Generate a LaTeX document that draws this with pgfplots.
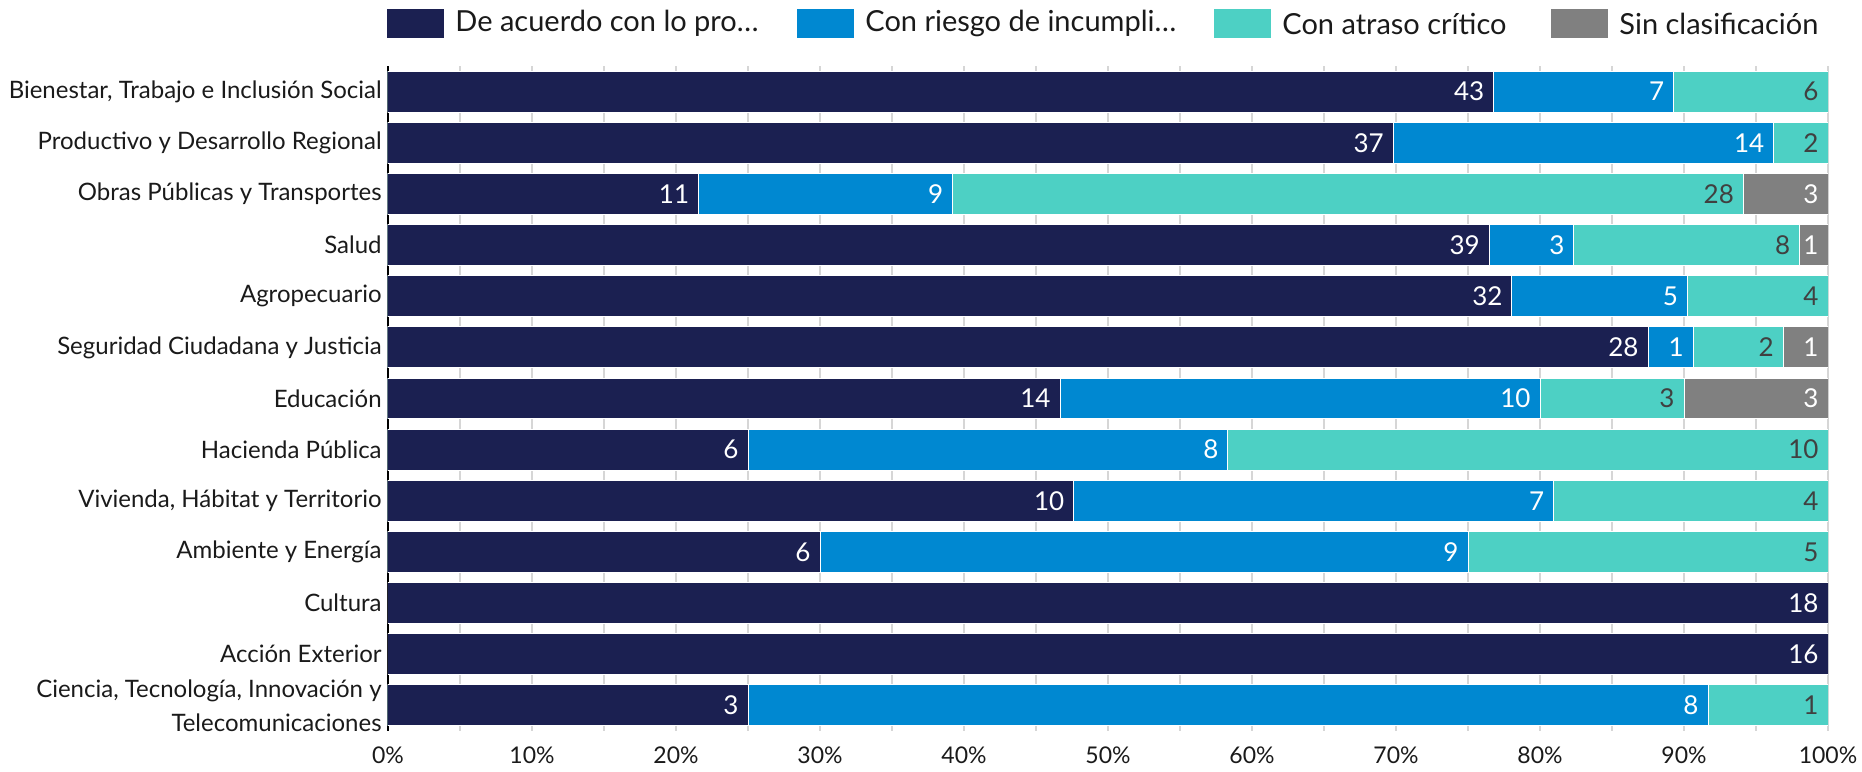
\documentclass[border=0pt]{standalone}
\usepackage{pgfplots}
\pgfplotsset{compat=1.18}
\usepackage{pgfplotstable}
\usepackage{fontspec}
\setmainfont{Lato}
\definecolor{cnavy}{HTML}{1B2051}
\definecolor{cblue}{HTML}{0088D1}
\definecolor{cteal}{HTML}{4DD0C4}
\definecolor{cgrey}{HTML}{808080}
\definecolor{ctext}{HTML}{1A1A1A}
\definecolor{cgrid}{HTML}{D6D6D6}
\definecolor{clab}{HTML}{404040}

% cumulative end (%) of each segment, and its count
\pgfplotstableread{
cat end n
0 76.79 43
1 69.81 37
2 21.57 11
3 76.47 39
4 78.05 32
5 87.50 28
6 46.67 14
7 25.00 6
8 47.62 10
9 30.00 6
10 100 18
11 100 16
12 25.00 3
}\navydata
\pgfplotstableread{
cat end n
0 89.29 7
1 96.23 14
2 39.22 9
3 82.35 3
4 90.24 5
5 90.63 1
6 80.00 10
7 58.33 8
8 80.95 7
9 75.00 9
12 91.67 8
}\bluedata
\pgfplotstableread{
cat end n
0 100 6
1 100 2
2 94.12 28
3 98.04 8
4 100 4
5 96.88 2
6 90.00 3
7 100 10
8 100 4
9 100 5
12 100 1
}\tealdata
\pgfplotstableread{
cat end n
2 100 3
3 100 1
5 100 1
6 100 3
}\greydata

\begin{document}
\begin{tikzpicture}
\path[use as bounding box] (-194pt,-20pt) rectangle (737pt,365.5pt);
\begin{axis}[
  at={(0,0)}, anchor=south west,
  scale only axis, width=720pt, height=332.5pt,
  xbar,
  xmin=0, xmax=100,
  ymin=-0.5, ymax=12.5,
  y dir=reverse,
  axis lines*=left,
  x axis line style={draw=none},
  y axis line style={black, line width=1pt},
  major tick length=0pt, minor tick length=0pt,
  xtick={0,10,...,100},
  minor xtick={5,15,...,95},
  xmajorgrids, xminorgrids,
  major grid style={cgrid, line width=1pt},
  minor grid style={cgrid, line width=1pt},
  ymajorgrids=false,
  xticklabel={\pgfmathprintnumber{\tick}\%},
  /pgf/number format/assume math mode=true,
  xticklabel style={font=\fontsize{11.5}{14}\selectfont, text=ctext, yshift=-4.5pt},
  ytick={0,...,12},
  yticklabels={{Bienestar, Trabajo e Inclusión Social},
    Productivo y Desarrollo Regional,
    Obras Públicas y Transportes,
    Salud,
    Agropecuario,
    Seguridad Ciudadana y Justicia,
    Educación,
    Hacienda Pública,
    {Vivienda, Hábitat y Territorio},
    Ambiente y Energía,
    Cultura,
    Acción Exterior,
    {Ciencia, Tecnología, Innovación y\\Telecomunicaciones}},
  yticklabel style={font=\fontsize{12}{17}\selectfont, text=ctext, align=right, inner sep=0pt, xshift=-3pt},
  bar width=0.8,
  point meta=explicit symbolic,
  nodes near coords,
  every node near coord/.append style={anchor=east, xshift=-4.5pt, inner sep=0pt, font=\fontsize{13}{15}\selectfont},
]
\addplot[bar shift=0pt, fill=cgrey, draw=white, line width=0.5pt, every node near coord/.append style={text=white}]
  table[x=end, y=cat, meta=n] {\greydata};
\addplot[bar shift=0pt, fill=cteal, draw=white, line width=0.5pt, every node near coord/.append style={text=clab}]
  table[x=end, y=cat, meta=n] {\tealdata};
\addplot[bar shift=0pt, fill=cblue, draw=white, line width=0.5pt, every node near coord/.append style={text=white}]
  table[x=end, y=cat, meta=n] {\bluedata};
\addplot[bar shift=0pt, fill=cnavy, draw=white, line width=0.5pt, every node near coord/.append style={text=white}]
  table[x=end, y=cat, meta=n] {\navydata};
\end{axis}
% legend
\begin{scope}[font=\fontsize{14.5}{17}\selectfont, text=ctext]
\fill[cnavy] (-0.5pt,346.5pt) rectangle ++(28.5pt,14.5pt);
\node[anchor=west, inner sep=0pt] at (33.5pt,353.75pt) {De acuerdo con lo pro…};
\fill[cblue] (204.5pt,346.5pt) rectangle ++(28.5pt,14.5pt);
\node[anchor=west, inner sep=0pt] at (238.5pt,353.75pt) {Con riesgo de incumpli…};
\fill[cteal] (413pt,346.5pt) rectangle ++(28.5pt,14.5pt);
\node[anchor=west, inner sep=0pt] at (447pt,353.75pt) {Con atraso crítico};
\fill[cgrey] (581.5pt,346.5pt) rectangle ++(28.5pt,14.5pt);
\node[anchor=west, inner sep=0pt] at (615.5pt,353.75pt) {Sin clasificación};
\end{scope}
\end{tikzpicture}
\end{document}
